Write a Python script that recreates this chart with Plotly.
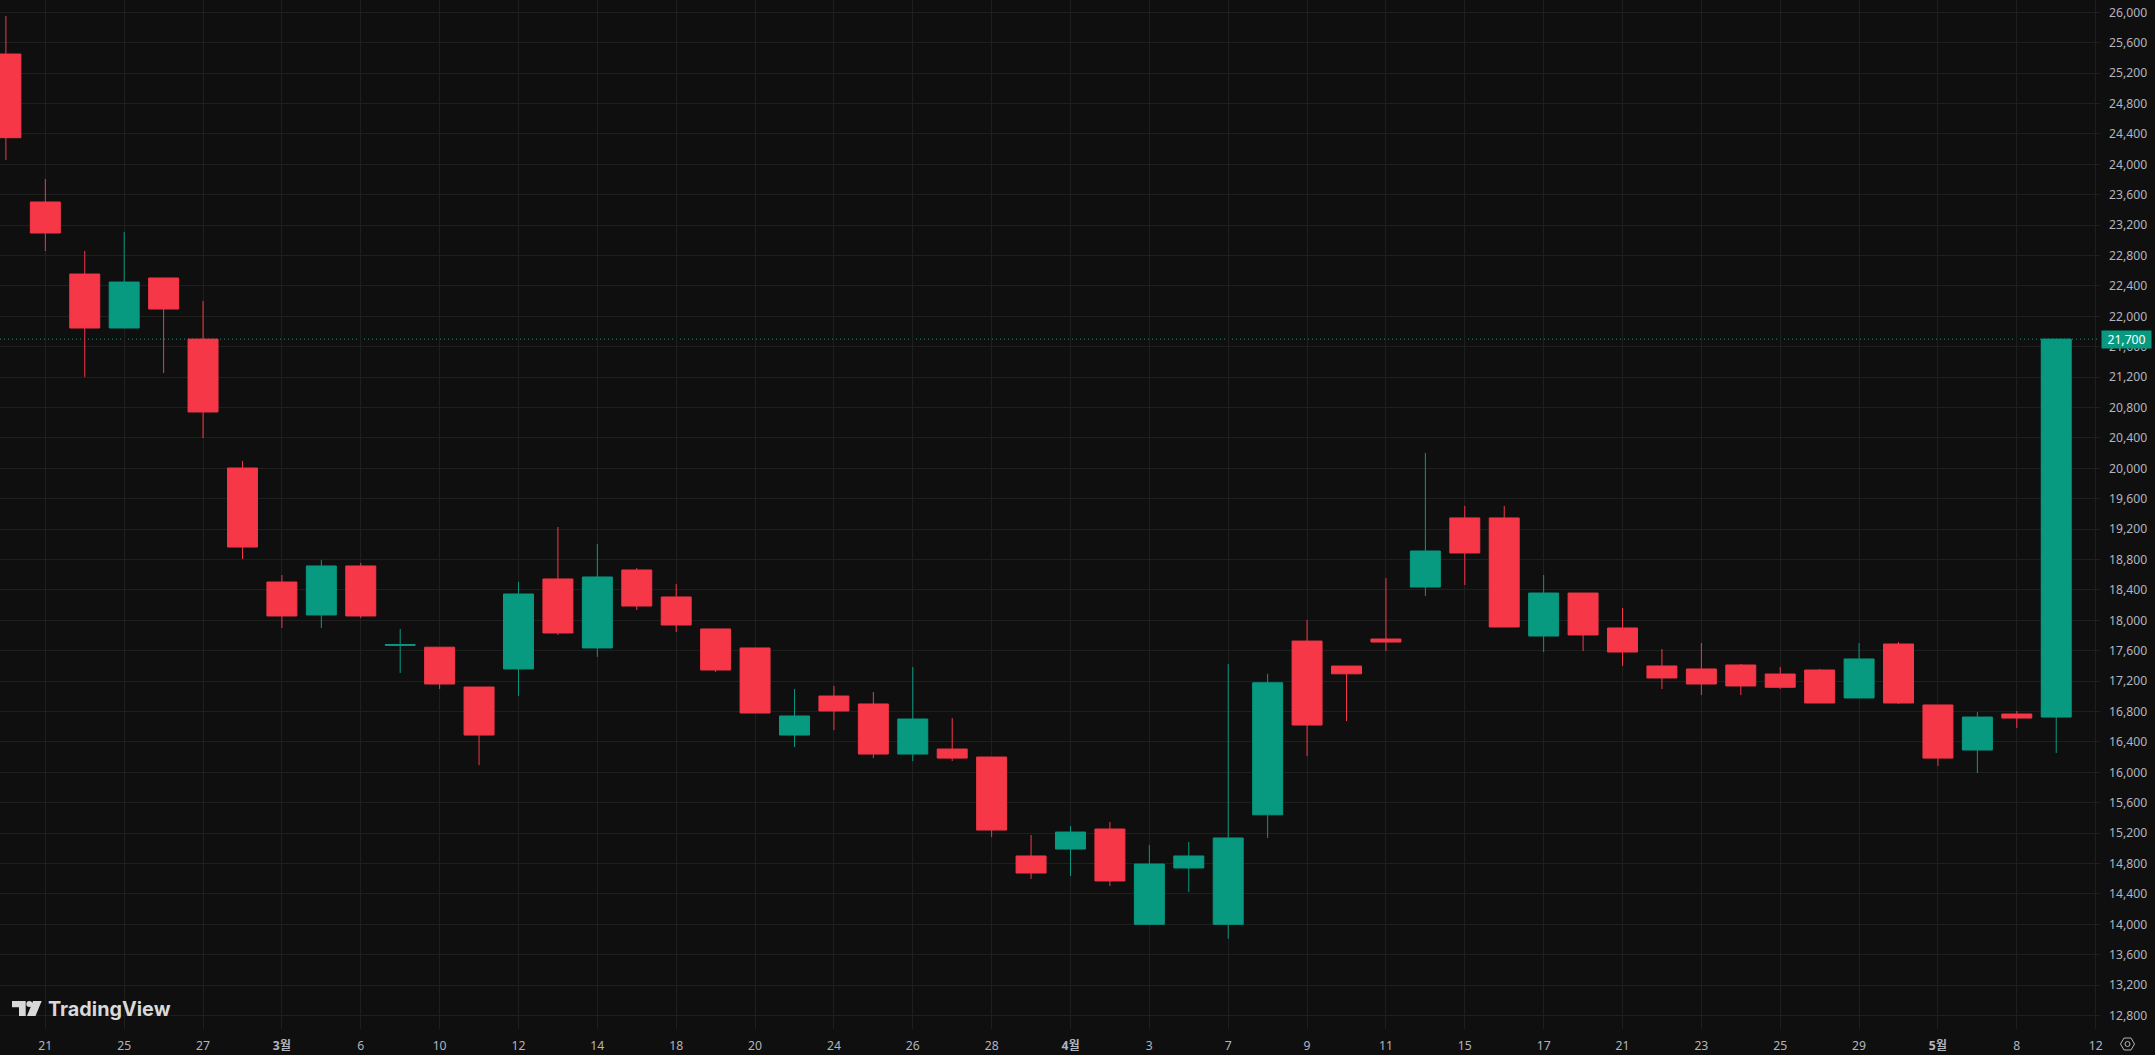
import plotly.graph_objects as go

# Daily candles, left to right (the first is clipped by the plot's left edge)
opens = [25451, 23504, 22556, 21846, 22504, 21700, 20004, 18504, 18070, 18715, 17670, 17646, 17122, 17360,
         18544, 17636, 18662, 18307, 17886, 17636, 16490, 17004, 16899, 16240, 16306, 16201, 14899, 14990,
         15254, 14000, 14741, 14000, 15441, 17727, 17398, 17754, 18438, 19347, 19347, 17793, 18359, 17899,
         17399, 17360, 17412, 17293, 17346, 16978, 17688, 16886, 16293, 16767, 16727]
highs = [25951, 23807, 22859, 23110, 22504, 22201, 20097, 18596, 18794, 18755, 17886, 17646, 17122, 18504,
         19228, 19004, 18688, 18478, 17886, 17636, 17096, 17136, 17057, 17385, 16714, 16201, 15175, 15293,
         15346, 15043, 15083, 17425, 17296, 18004, 17398, 18557, 20202, 19505, 19505, 18596, 18359, 18162,
         17622, 17701, 17425, 17385, 17360, 17701, 17714, 16886, 16793, 16806, 21700]
lows = [24057, 22859, 21202, 21846, 21254, 20398, 18806, 17899, 17899, 18031, 17307, 17096, 16095, 17004,
        17807, 17518, 18136, 17846, 17320, 16780, 16332, 16556, 16187, 16148, 16148, 15148, 14596, 14635,
        14504, 14000, 14425, 13810, 15136, 16214, 16675, 17596, 18320, 18465, 17912, 17583, 17596, 17399,
        17096, 17017, 17017, 17096, 16912, 16978, 16899, 16083, 15990, 16583, 16254]
closes = [24350, 23096, 21846, 22451, 22096, 20741, 18964, 18057, 18715, 18057, 17680, 17162, 16490, 18346,
          17833, 18570, 18188, 17938, 17346, 16780, 16741, 16807, 16240, 16701, 16187, 15240, 14675, 15214,
          14570, 14793, 14899, 15136, 17178, 16622, 17296, 17714, 18912, 18886, 17912, 18359, 17807, 17583,
          17241, 17162, 17136, 17119, 16912, 17491, 16912, 16187, 16727, 16714, 21700]
candle_index = list(range(len(opens)))

x_tick_index = [1, 3, 5, 7, 9, 11, 13, 15, 17, 19, 21, 23, 25, 27, 29, 31, 33, 35, 37, 39, 41, 43, 45, 47, 49, 51, 53]
x_tick_labels = ["21", "25", "27", "<b>3월</b>", "6", "10", "12", "14", "18", "20", "24", "26", "28", "<b>4월</b>",
                 "3", "7", "9", "11", "15", "17", "21", "23", "25", "29", "<b>5월</b>", "8", "12"]
y_ticks = [12800, 13200, 13600, 14000, 14400, 14800, 15200, 15600, 16000, 16400, 16800, 17200, 17600, 18000,
           18400, 18800, 19200, 19600, 20000, 20400, 20800, 21200, 21600, 22000, 22400, 22800, 23200, 23600,
           24000, 24400, 24800, 25200, 25600, 26000]
last_price = 21700

BG = "#0f0f0f"
GRID = "#1f1f1f"
TEXT = "#b2b5be"
RED = "#f53748"
GREEN = "#089981"
W, H = 2155, 1055
PLOT_W, PLOT_H = 2100, 1029
FONT = "'Noto Sans', 'Noto Sans CJK KR', sans-serif"


def px(x):
    return x / PLOT_W


def py(y):
    return (PLOT_H - y) / PLOT_H


def path(points):
    return "M" + " L".join(f"{px(x):.5f},{py(y):.5f}" for x, y in points) + " Z"


fig = go.Figure(go.Candlestick(
    x=candle_index, open=opens, high=highs, low=lows, close=closes,
    increasing=dict(line=dict(color=GREEN, width=1), fillcolor=GREEN),
    decreasing=dict(line=dict(color=RED, width=1), fillcolor=RED),
    whiskerwidth=0, hoverinfo="skip",
))

shapes = [
    dict(type="line", xref="paper", x0=0, x1=0.999, yref="y", y0=last_price, y1=last_price,
         line=dict(color=GREEN, width=1, dash="1px,3px"), layer="below"),
    # TradingView mark
    dict(type="path", xref="paper", yref="paper", path=path([(12, 1001), (25.7, 1001), (25.7, 1016), (19, 1016), (19, 1007.3), (12, 1007.3)]),
         fillcolor="#d9d9d9", line=dict(width=0)),
    dict(type="path", xref="paper", yref="paper", path=path([(33, 1001), (41.7, 1001), (35.5, 1016), (27, 1016)]),
         fillcolor="#d9d9d9", line=dict(width=0)),
    dict(type="circle", xref="paper", yref="paper", x0=px(26.3), x1=px(32.3), y0=py(1007), y1=py(1001),
         fillcolor="#d9d9d9", line=dict(width=0)),
    # Settings icon
    dict(type="path", xref="paper", yref="paper",
         path=path([(2120.5, 1044), (2124, 1038), (2131, 1038), (2134.5, 1044), (2131, 1050), (2124, 1050)]),
         line=dict(color=TEXT, width=1)),
    dict(type="circle", xref="paper", yref="paper", x0=px(2125), x1=px(2130), y0=py(1046.5), y1=py(1041.5),
         line=dict(color=TEXT, width=1)),
]

annotations = [
    dict(text=f"{last_price:,}", xref="paper", x=px(2101), xanchor="left", yref="y", y=last_price, yanchor="middle",
         showarrow=False, bgcolor=GREEN, width=49, height=17, borderpad=0, align="center",
         font=dict(family=FONT, size=12.2, color="#ffffff")),
    dict(text="<b>TradingView</b>", xref="paper", x=px(47), xanchor="left", yref="paper", y=py(1009), yanchor="middle",
         showarrow=False, borderpad=0, font=dict(family="Inter, sans-serif", size=19.8, color="#d9d9d9")),
]

fig.update_layout(
    width=W, height=H, autosize=False,
    margin=dict(l=0, r=W - PLOT_W, t=0, b=H - PLOT_H, pad=0),
    paper_bgcolor=BG, plot_bgcolor=BG,
    showlegend=False, boxgap=0.24, boxgroupgap=0,
    font=dict(family=FONT, size=12, color=TEXT),
    shapes=shapes, annotations=annotations,
    xaxis=dict(range=[-0.1496, 53.11], tickmode="array", tickvals=x_tick_index, ticktext=x_tick_labels,
               rangeslider=dict(visible=False), showgrid=True, gridcolor=GRID, gridwidth=1, zeroline=False,
               showline=False, ticks="", tickangle=0, ticklabelstandoff=8,
               tickfont=dict(family=FONT, size=12.2, color=TEXT)),
    yaxis=dict(range=[12622.4, 26161.8], side="right", tickmode="array", tickvals=y_ticks,
               ticktext=[f"{v:,}" for v in y_ticks], showgrid=True, gridcolor=GRID, gridwidth=1, zeroline=False,
               showline=False, ticks="", ticklabelstandoff=8, tickfont=dict(family=FONT, size=12.2, color=TEXT)),
)

fig.write_html("out.html", config={"displayModeBar": False},
               post_script="document.body.style.margin='0';document.documentElement.style.overflow='hidden';")
